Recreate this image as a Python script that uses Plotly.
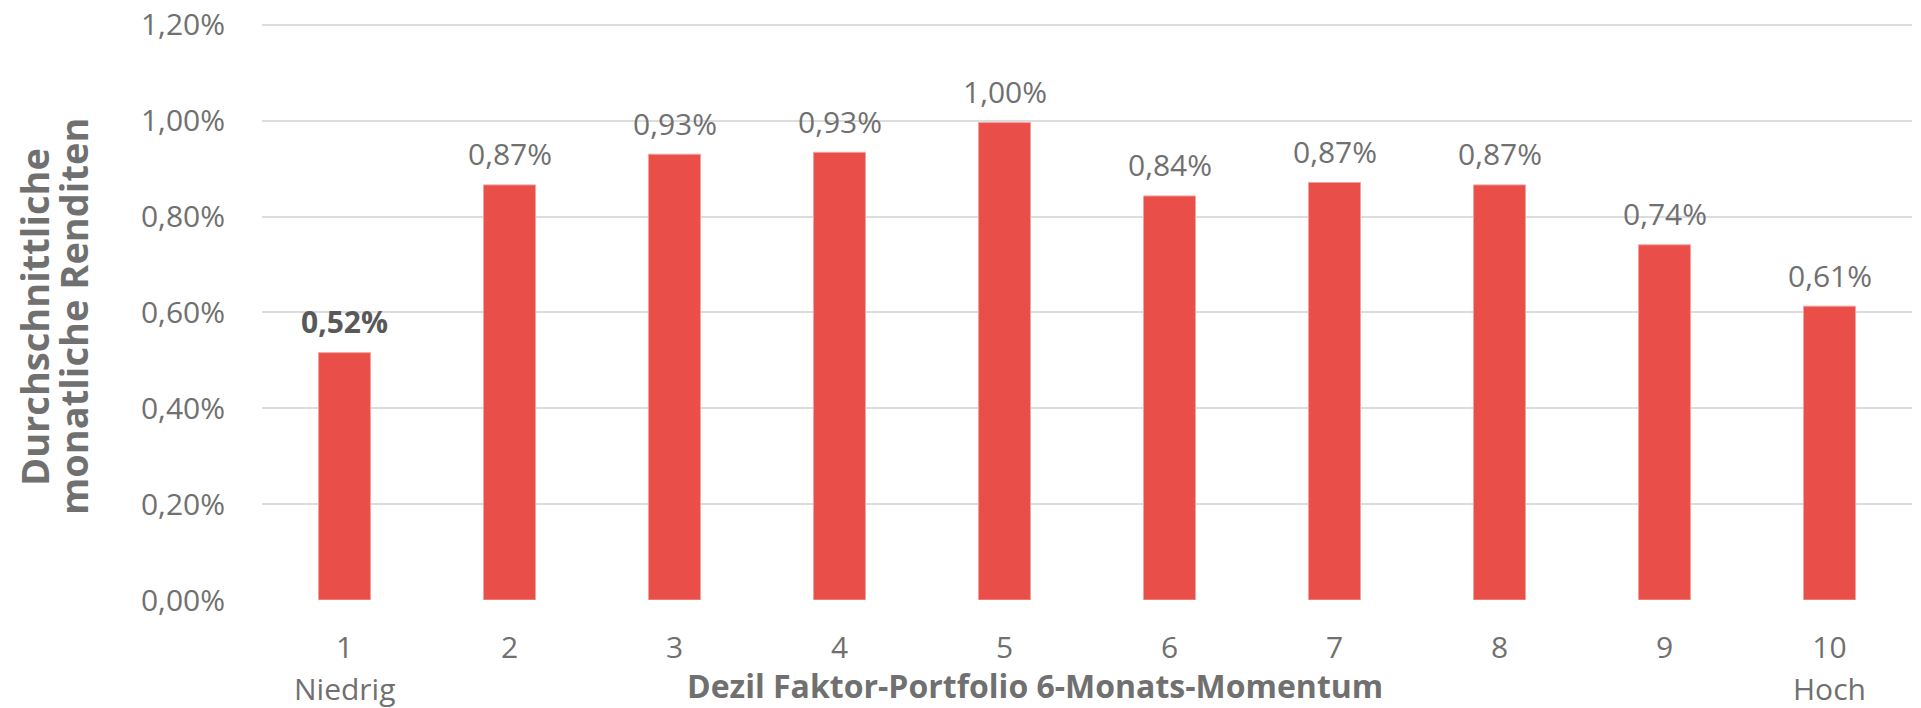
import plotly.graph_objects as go

deciles = [1, 2, 3, 4, 5, 6, 7, 8, 9, 10]
tick_labels = ["1", "2", "3", "4", "5", "6", "7", "8", "9", "10"]
returns_pct = [0.516, 0.866, 0.930, 0.934, 0.996, 0.843, 0.871, 0.866, 0.741, 0.613]
y_ticks = [0.0, 0.2, 0.4, 0.6, 0.8, 1.0, 1.2]
y_tick_labels = ["0,00%", "0,20%", "0,40%", "0,60%", "0,80%", "1,00%", "1,20%"]
end_labels = {1: "Niedrig", 10: "Hoch"}
y_title_lines = ["Durchschnittliche", "monatliche Renditen"]
x_title = "Dezil Faktor-Portfolio 6-Monats-Momentum"

BAR = "#E94E48"
GRAY = "#707070"
DARK = "#595959"
FONT = "Open Sans"

W, H = 1921, 708
Y_TOP = 1.21
px0, px1, py1 = 262, 1912, 600
py0 = round(py1 - 575 * Y_TOP / 1.2)
L, R, T, B = px0, W - px1, py0, H - py1
pw = px1 - px0
ph = py1 - py0

def xp(xwin):
    return (xwin - px0) / pw

def yp(ywin):
    return (py1 - ywin) / ph

fig = go.Figure()
fig.add_trace(go.Bar(
    x=deciles, y=returns_pct, width=0.315,
    marker=dict(color=BAR, line=dict(color="#F3A29E", width=1)),
    hoverinfo="skip",
))

fig.update_layout(
    width=W, height=H,
    margin=dict(l=L, r=R, t=T, b=B, autoexpand=False),
    plot_bgcolor="white", paper_bgcolor="white",
    showlegend=False,
    font=dict(family=FONT, color=GRAY),
    xaxis=dict(
        range=[0.5, 10.5], tickmode="array", tickvals=deciles, ticktext=tick_labels,
        showgrid=False, zeroline=False, showline=False, ticks="",
        tickfont=dict(family=FONT, size=30, color=GRAY),
        ticklabelstandoff=27, automargin=False,
    ),
    yaxis=dict(
        range=[0, Y_TOP], tickmode="array", tickvals=y_ticks, ticktext=y_tick_labels,
        showgrid=True, gridcolor="#DCDCDC", gridwidth=2, zeroline=False, showline=False,
        ticks="", tickfont=dict(family=FONT, size=30, color=GRAY),
        ticklabelstandoff=36, automargin=False,
    ),
)

annotations = []
# value labels above bars
for i, (k, v) in enumerate(zip(deciles, returns_pct)):
    s = f"{v:.2f}%".replace(".", ",")
    bold = i == 0
    annotations.append(dict(
        x=k, xref="x", y=v, yref="y", text=f"<b>{s}</b>" if bold else s,
        showarrow=False, xanchor="center", yanchor="middle", yshift=31,
        font=dict(family=FONT, size=30, color=DARK if bold else GRAY),
    ))
for k, txt in end_labels.items():
    annotations.append(dict(
        x=k, xref="x", y=yp(688), yref="paper", text=txt, showarrow=False,
        xanchor="center", yanchor="middle",
        font=dict(family=FONT, size=30, color=GRAY),
    ))
annotations.append(dict(
    x=xp(1035), xref="paper", y=yp(685), yref="paper",
    text=f"<b>{x_title}</b>", showarrow=False, xanchor="center", yanchor="middle",
    font=dict(family=FONT, size=32, color=GRAY),
))
for xw, line in zip([34, 73], y_title_lines):
    annotations.append(dict(
        x=xp(xw), xref="paper", y=yp(317), yref="paper",
        text=f"<b>{line}</b>", showarrow=False, textangle=-90,
        xanchor="center", yanchor="middle",
        font=dict(family=FONT, size=38, color=GRAY),
    ))
fig.update_layout(annotations=annotations)

fig.write_html(
    "out.html",
    config={"displayModeBar": False},
    post_script="document.body.style.margin='0';",
)
